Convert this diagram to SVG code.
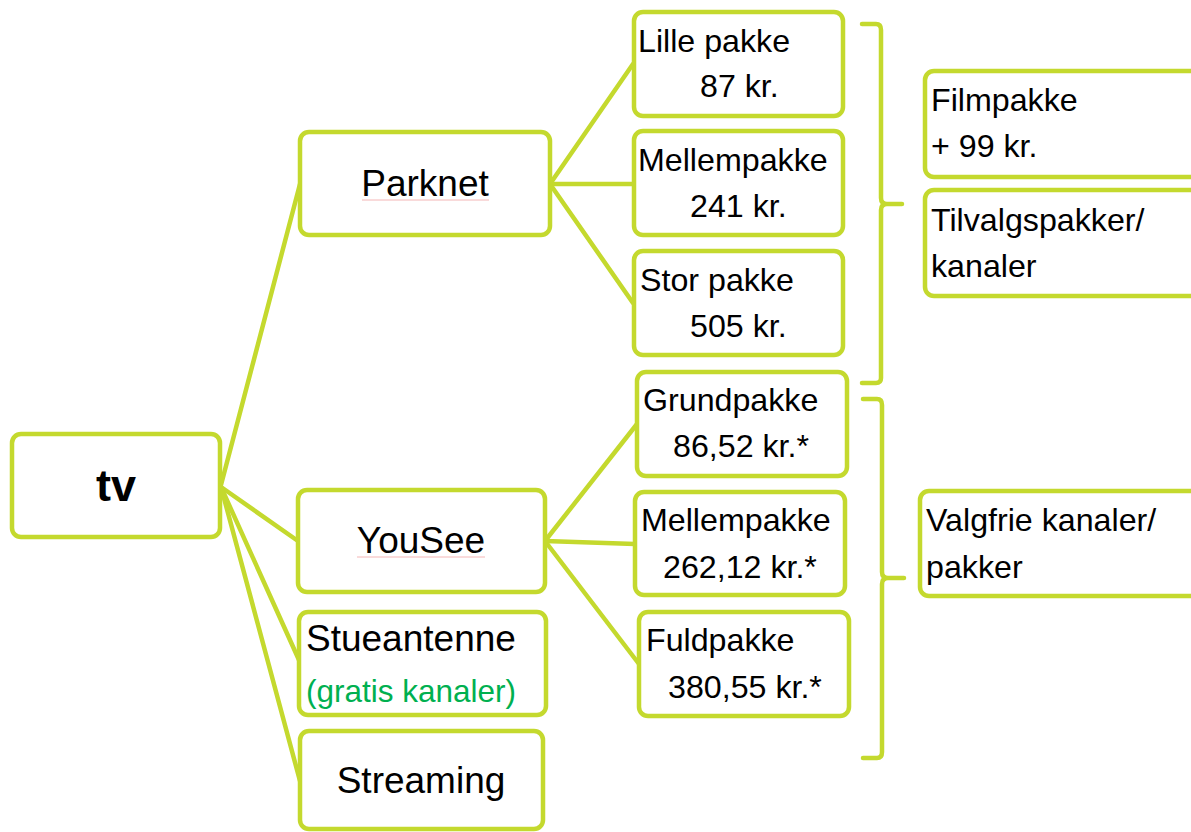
<svg xmlns="http://www.w3.org/2000/svg" width="1191" height="832" viewBox="0 0 1191 832">
<style>
.box{fill:#fff;stroke:#c4d92e;stroke-width:4.5}
.ln{fill:none;stroke:#c4d92e;stroke-width:4.5;stroke-linecap:round;stroke-linejoin:round}
text{font-family:"Liberation Sans",Arial,sans-serif;fill:#000}
.big{font-size:37px}
.sm{font-size:32.2px}
.c{text-anchor:middle}
.sq{fill:none;stroke:#f4b6b6;stroke-width:1}
</style>
<g id="connectors">
<line class="ln" x1="221" y1="485" x2="300" y2="184"/>
<line class="ln" x1="221" y1="487" x2="298" y2="541"/>
<line class="ln" x1="221" y1="487" x2="299" y2="660"/>
<line class="ln" x1="221" y1="487" x2="300" y2="781"/>
<line class="ln" x1="550" y1="184" x2="633" y2="64"/>
<line class="ln" x1="550" y1="184" x2="633" y2="184"/>
<line class="ln" x1="550" y1="184" x2="633" y2="303"/>
<line class="ln" x1="545" y1="541" x2="637" y2="424"/>
<line class="ln" x1="545" y1="541" x2="635" y2="544"/>
<line class="ln" x1="545" y1="541" x2="639" y2="664"/>
<path class="ln" d="M862,24 L876,24 Q881,24 881,30 L881,198 Q881,204 887,204 L902,204 M887,204 Q881,204 881,210 L881,378 Q881,383 876,383 L862,383"/>
<path class="ln" d="M863,399 L877,399 Q882,399 882,405 L882,572 Q882,578 888,578 L904,578 M888,578 Q882,578 882,584 L882,752 Q882,758 877,758 L863,758"/>
</g>
<g id="tv">
<rect class="box" x="12" y="434" width="208" height="103" rx="9"/>
<text x="116" y="501" class="c" style="font-size:45px;font-weight:bold">tv</text>
</g>
<g id="parknet">
<rect class="box" x="300" y="132" width="250" height="103" rx="9"/>
<text x="425" y="196" class="big c">Parknet</text>
<line class="sq" x1="362" y1="200" x2="489" y2="200"/>
</g>
<g id="yousee">
<rect class="box" x="298" y="490" width="247" height="102" rx="9"/>
<text x="421" y="553" class="big c">YouSee</text>
<line class="sq" x1="357" y1="557" x2="485" y2="557"/>
</g>
<g id="stueantenne">
<rect class="box" x="299" y="612" width="247" height="103" rx="9"/>
<text x="306" y="651" class="big">Stueantenne</text>
<text x="306" y="702" style="font-size:31.5px;fill:#00b050">(gratis kanaler)</text>
</g>
<g id="streaming">
<rect class="box" x="300" y="731" width="243" height="98" rx="9"/>
<text x="421" y="793" class="big c">Streaming</text>
</g>
<g id="lille">
<rect class="box" x="634" y="12" width="209" height="104" rx="9"/>
<text x="638" y="52" class="sm">Lille pakke</text>
<text x="700" y="97" class="sm">87 kr.</text>
</g>
<g id="mellem1">
<rect class="box" x="634" y="131" width="209" height="104" rx="9"/>
<text x="638" y="171" class="sm">Mellempakke</text>
<text x="690" y="217" class="sm">241 kr.</text>
</g>
<g id="stor">
<rect class="box" x="634" y="251" width="209" height="104" rx="9"/>
<text x="640" y="291" class="sm">Stor pakke</text>
<text x="690" y="337" class="sm">505 kr.</text>
</g>
<g id="grund">
<rect class="box" x="637" y="372" width="210" height="104" rx="9"/>
<text x="643" y="411" class="sm">Grundpakke</text>
<text x="673" y="457" class="sm">86,52 kr.*</text>
</g>
<g id="mellem2">
<rect class="box" x="635" y="492" width="210" height="103" rx="9"/>
<text x="641" y="531" class="sm">Mellempakke</text>
<text x="663" y="578" class="sm">262,12 kr.*</text>
</g>
<g id="fuld">
<rect class="box" x="639" y="612" width="210" height="104" rx="9"/>
<text x="646" y="651" class="sm">Fuldpakke</text>
<text x="668" y="698" class="sm">380,55 kr.*</text>
</g>
<g id="filmpakke">
<rect class="box" x="925" y="71" width="290" height="106" rx="9"/>
<text x="931" y="111" class="sm">Filmpakke</text>
<text x="931" y="157" class="sm">+ 99 kr.</text>
</g>
<g id="tilvalg">
<rect class="box" x="925" y="190" width="290" height="106" rx="9"/>
<text x="931" y="231" class="sm">Tilvalgspakker/</text>
<text x="931" y="277" class="sm">kanaler</text>
</g>
<g id="valgfrie">
<rect class="box" x="920" y="491" width="290" height="105" rx="9"/>
<text x="926" y="531" class="sm">Valgfrie kanaler/</text>
<text x="926" y="578" class="sm">pakker</text>
</g>
</svg>
